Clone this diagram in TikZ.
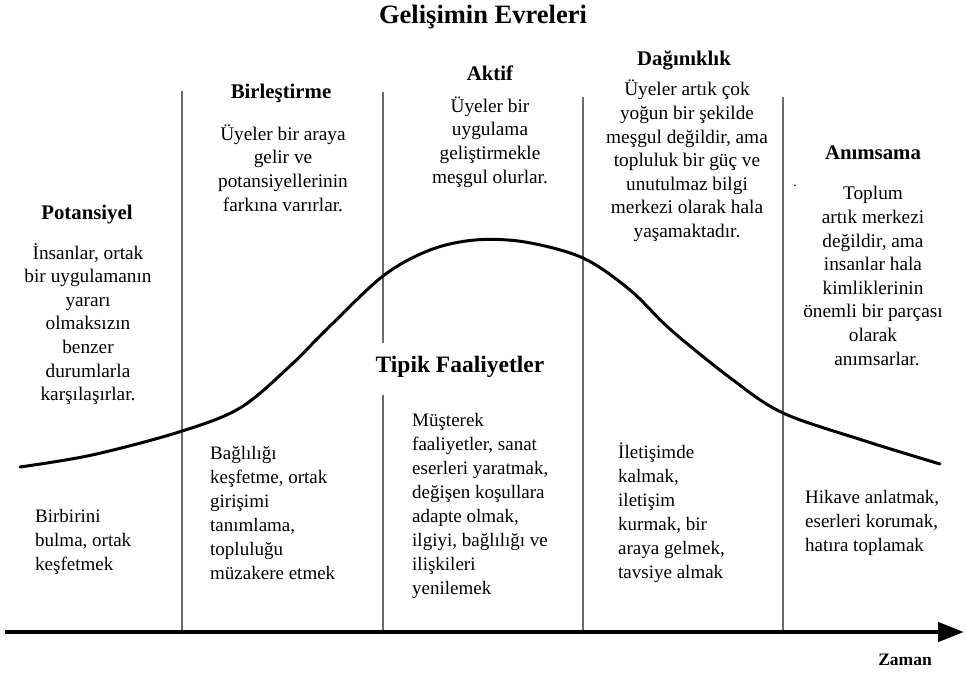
\documentclass[tikz,border=0pt]{standalone}
\usepackage{fontspec}
\setmainfont{Liberation Serif}
\usetikzlibrary{arrows.meta}
\definecolor{sep}{HTML}{6A6A6A}
\tikzset{
  head/.style={font=\fontsize{20.8}{24}\selectfont\bfseries, inner sep=0pt},
  body/.style={font=\fontsize{19.3}{23.6}\selectfont, align=center, inner sep=0pt},
  act/.style={font=\fontsize{19}{24}\selectfont, align=left, anchor=west, inner sep=0pt},
  sepline/.style={draw=sep, line width=2.4pt},
  curve/.style={draw=black, line width=3pt, line cap=round},
  axis/.style={draw=black, line width=4.5pt, -{Triangle[length=26pt,width=19pt]}}
}
\begin{document}
\begin{tikzpicture}[x=1pt,y=-1pt]
\useasboundingbox (0,0) rectangle (966,673);
% separators
\draw[sepline] (182,91) -- (182,632);
\draw[sepline] (383,92) -- (383,343);
\draw[sepline] (383,395) -- (383,632);
\draw[sepline] (583,97) -- (583,632);
\draw[sepline] (783,97) -- (783,632);
% axis
\coordinate (ax0) at (5,632);
\coordinate (ax1) at (964,632);
\draw[axis] (ax0) -- (ax1);
% curve
\draw[curve] plot[smooth, tension=0.55] coordinates {(20,467) (92,455) (179,432) (240,408) (290,366) (326,330) (383,276) (430,250) (475,240) (525,242) (583,258) (630,290) (671,330) (733,380) (783,413) (862,440) (940,464)};
% title
\node[font=\fontsize{26.5}{30}\selectfont\bfseries, inner sep=0pt] (title) at (483,17) {Gelişimin Evreleri};
% headers
\node[head] (h1) at (87,215) {Potansiyel};
\node[head] (h2) at (281,93) {Birleştirme};
\node[head] (h3) at (490,73) {Aktif};
\node[head] (h4) at (684,60) {Dağınıklık};
\node[head] (h5) at (873,153) {Anımsama};
\node[font=\fontsize{23.5}{27}\selectfont\bfseries, inner sep=0pt] (tipik) at (460,367) {Tipik Faaliyetler};
% descriptions
\node[body] (d1) at (88,324) {İnsanlar, ortak\\bir uygulamanın\\yararı\\olmaksızın\\benzer\\durumlarla\\karşılaşırlar.};
\node[body] (d2) at (283,168) {Üyeler bir araya\\gelir ve\\potansiyellerinin\\farkına varırlar.};
\node[body] (d3) at (490,142) {Üyeler bir\\uygulama\\geliştirmekle\\meşgul olurlar.};
\node[body] (d4) at (687,161) {Üyeler artık çok\\yoğun bir şekilde\\meşgul değildir, ama\\topluluk bir güç ve\\unutulmaz bilgi\\merkezi olarak hala\\yaşamaktadır.};
\node[body] (d5) at (873,276) {Toplum\\artık merkezi\\değildir, ama\\insanlar hala\\kimliklerinin\\önemli bir parçası\\olarak\\\hspace*{8pt}anımsarlar.};
\node[font=\fontsize{14}{14}\selectfont, inner sep=0pt] (dot) at (795,186) {.};
% activities
\node[act] (a1) at (35,542) {Birbirini\\bulma, ortak\\keşfetmek};
\node[act] (a2) at (210,513) {Bağlılığı\\keşfetme, ortak\\girişimi\\tanımlama,\\topluluğu\\müzakere etmek};
\node[act] (a3) at (412,506) {Müşterek\\faaliyetler, sanat\\eserleri yaratmak,\\değişen koşullara\\adapte olmak,\\ilgiyi, bağlılığı ve\\ilişkileri\\yenilemek};
\node[act] (a4) at (618,513) {İletişimde\\kalmak,\\iletişim\\kurmak, bir\\araya gelmek,\\tavsiye almak};
\node[act] (a5) at (805,523) {Hikave anlatmak,\\eserleri korumak,\\hatıra toplamak};
% axis label
\node[font=\fontsize{17.5}{20}\selectfont\bfseries, inner sep=0pt] (zaman) at (905,660) {Zaman};
\end{tikzpicture}
\end{document}
